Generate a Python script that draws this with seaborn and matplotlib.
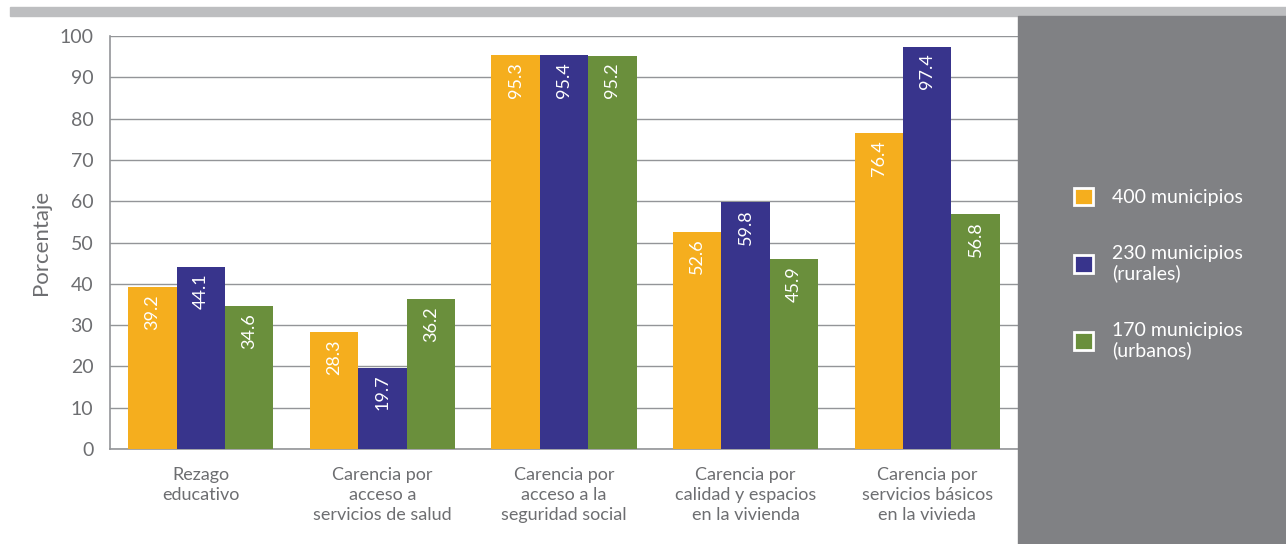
import pandas as pd
import matplotlib.pyplot as plt
import seaborn as sns
from matplotlib.patches import Rectangle, Patch

# datos
categorias = ['Rezago\neducativo',
              'Carencia por\nacceso a\nservicios de salud',
              'Carencia por\nacceso a la\nseguridad social',
              'Carencia por\ncalidad y espacios\nen la vivienda',
              'Carencia por\nservicios básicos\nen la vivieda']
grupos = ['400 municipios', '230 municipios\n(rurales)', '170 municipios\n(urbanos)']
v_400 = [39.2, 28.3, 95.3, 52.6, 76.4]
v_230 = [44.1, 19.7, 95.4, 59.8, 97.4]
v_170 = [34.6, 36.2, 95.2, 45.9, 56.8]
colores = ['#F5AE1E', '#38348C', '#6A8F3C']

df = pd.DataFrame({
    'categoria': categorias * 3,
    'grupo': [grupos[0]] * 5 + [grupos[1]] * 5 + [grupos[2]] * 5,
    'valor': v_400 + v_230 + v_170,
})

sns.set_theme(style='white')
plt.rcParams['font.family'] = ['Lato', 'DejaVu Sans']
gris = '#6D6E71'

fig = plt.figure(figsize=(12.86, 5.44), dpi=100)
# barra superior y panel gris de la derecha
fig.patches.append(Rectangle((10 / 1286, 1 - 16 / 544), 1 - 10 / 1286, 9 / 544,
                             transform=fig.transFigure, color='#BDBEC0', zorder=0))
fig.patches.append(Rectangle((1018 / 1286, 0), 1 - 1018 / 1286, 1 - 16 / 544,
                             transform=fig.transFigure, color='#808184', zorder=0))

ax = fig.add_axes([110 / 1286, 1 - 449 / 544, 908 / 1286, 413 / 544])
sns.barplot(data=df, x='categoria', y='valor', hue='grupo', palette=colores,
            width=0.8, saturation=1, linewidth=0, ax=ax, legend=False, zorder=3)

ax.set_ylim(0, 100)
ax.set_xlim(-0.5, 4.5)
ax.set_yticks(range(0, 101, 10))
ax.yaxis.grid(True, color='#939598', linewidth=1)
ax.set_axisbelow(True)
for s in ['top', 'right']:
    ax.spines[s].set_visible(False)
for s in ['left', 'bottom']:
    ax.spines[s].set_color('#939598')
    ax.spines[s].set_linewidth(1.2)
ax.tick_params(axis='y', colors=gris, labelsize=14, length=0, pad=12)
ax.tick_params(axis='x', colors=gris, labelsize=13, length=0, pad=13)
for t in ax.get_xticklabels():
    t.set_linespacing(1.3)
    t.set_verticalalignment('top')
ax.set_xlabel('')
ax.set_ylabel('Porcentaje', color=gris, fontsize=16, labelpad=6)

# etiquetas dentro de las barras
for p in ax.patches:
    h = p.get_height()
    if h <= 0:
        continue
    ax.annotate(f'{h:.1f}', (p.get_x() + p.get_width() / 2, h),
                xytext=(0, -5), textcoords='offset points',
                rotation=90, ha='center', va='top', color='white', fontsize=13, zorder=4)

handles = [Patch(facecolor=c, edgecolor='white', linewidth=2) for c in colores]
fig.legend(handles, grupos, loc='upper left', bbox_to_anchor=(1056 / 1286, 1 - 170 / 544),
           frameon=False, labelcolor='white', fontsize=14, handlelength=1.0,
           handleheight=1.0, labelspacing=2.0, handletextpad=1.0)

fig.savefig('out.png', dpi=100)
